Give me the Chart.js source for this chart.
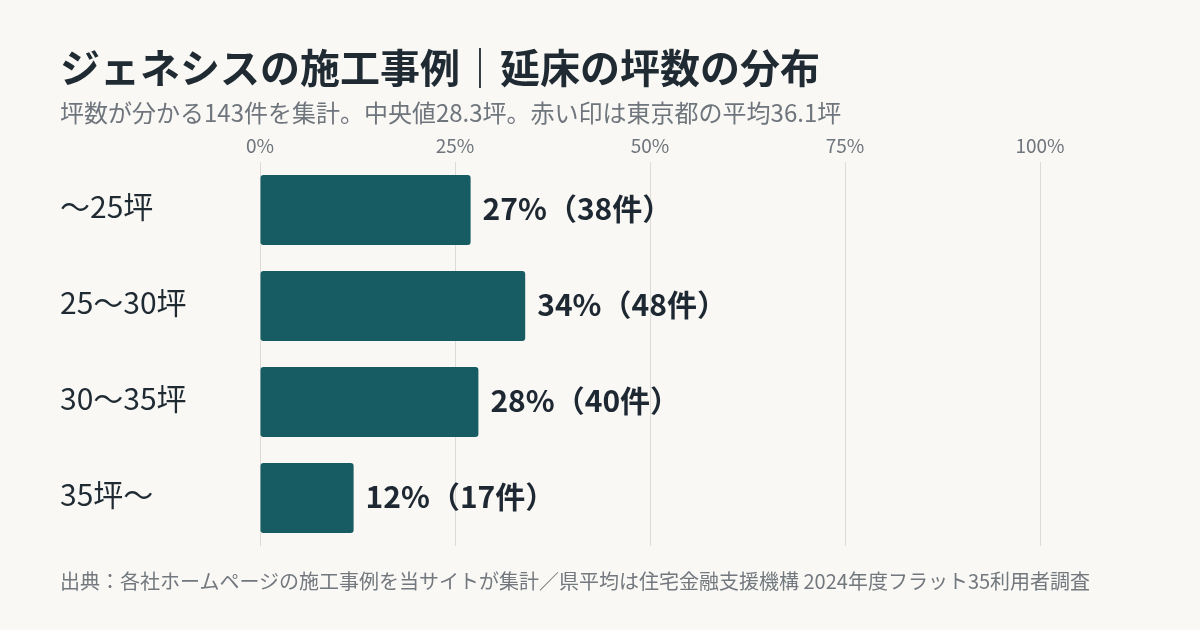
<!DOCTYPE html>
<html lang="ja">
<head>
<meta charset="utf-8">
<script src="https://cdn.jsdelivr.net/npm/chart.js@4"></script>
<style>
  html, body { margin: 0; padding: 0; }
  body {
    width: 1200px; height: 630px; background: #f9f8f4; position: relative; overflow: hidden;
    font-family: "Noto Sans CJK JP", "Noto Sans", sans-serif;
  }
  .txt { position: absolute; left: 60px; line-height: 1; white-space: nowrap; }
  #title { top: 46px; font-size: 40px; font-weight: 700; color: #1f2a33; }
  #subtitle { top: 100px; font-size: 24px; color: #6f757c; }
  #footer { top: 571px; font-size: 20px; color: #72787e; }
  #wrap { position: absolute; left: 0; top: 0; width: 1200px; height: 630px; }
</style>
</head>
<body>
<div id="wrap"><canvas id="chart"></canvas></div>
<div class="txt" id="title">ジェネシスの施工事例｜延床の坪数の分布</div>
<div class="txt" id="subtitle">坪数が分かる143件を集計。中央値28.3坪。赤い印は東京都の平均36.1坪</div>
<div class="txt" id="footer">出典：各社ホームページの施工事例を当サイトが集計／県平均は住宅金融支援機構 2024年度フラット35利用者調査</div>
<script>
const categories = ['～25坪', '25～30坪', '30～35坪', '35坪～'];
const shares = [27, 34, 28, 12];
const counts = [38, 48, 40, 17];
const tickLabels = ['0%', '25%', '50%', '75%', '100%'];

const font = '"Noto Sans CJK JP", "Noto Sans", sans-serif';

// 棒の右に「27%（38件）」を描く
const valueLabels = {
  id: 'valueLabels',
  afterDatasetsDraw(chart) {
    const ctx = chart.ctx;
    const meta = chart.getDatasetMeta(0);
    ctx.save();
    ctx.font = '700 30px ' + font;
    ctx.fillStyle = '#1e2832';
    ctx.textBaseline = 'middle';
    ctx.textAlign = 'left';
    meta.data.forEach((bar, i) => {
      ctx.fillText(shares[i] + '%（' + counts[i] + '件）', bar.x + 12, bar.y - 1);
    });
    ctx.restore();
  }
};

new Chart(document.getElementById('chart'), {
  type: 'bar',
  data: {
    labels: categories,
    datasets: [{
      data: shares,
      backgroundColor: '#165c62',
      borderRadius: 3,
      borderSkipped: false,
      barPercentage: 0.73,
      categoryPercentage: 1
    }]
  },
  options: {
    indexAxis: 'y',
    responsive: true,
    maintainAspectRatio: false,
    animation: false,
    layout: { padding: { left: 60, right: 160, top: 130, bottom: 84 } },
    plugins: { legend: { display: false }, tooltip: { enabled: false } },
    scales: {
      x: {
        position: 'top',
        min: 0,
        max: 100,
        afterFit(scale) { scale.height = 32; },
        afterBuildTicks(scale) {
          scale.ticks = tickLabels.map((t, i) => ({ value: i * 25 }));
        },
        ticks: {
          callback: (v, i) => tickLabels[i],
          color: '#6f757c',
          font: { family: font, size: 19 },
          padding: 5,
          maxRotation: 0
        },
        grid: { color: '#dcdbd6', lineWidth: 1, drawTicks: false },
        border: { display: false }
      },
      y: {
        afterFit(scale) { scale.width = 200; },
        ticks: {
          crossAlign: 'far',
          color: '#1f2a33',
          font: { family: font, size: 30 },
          padding: 0,
          labelOffset: -3
        },
        grid: { display: false },
        border: { display: false }
      }
    }
  },
  plugins: [valueLabels]
});
</script>
</body>
</html>
